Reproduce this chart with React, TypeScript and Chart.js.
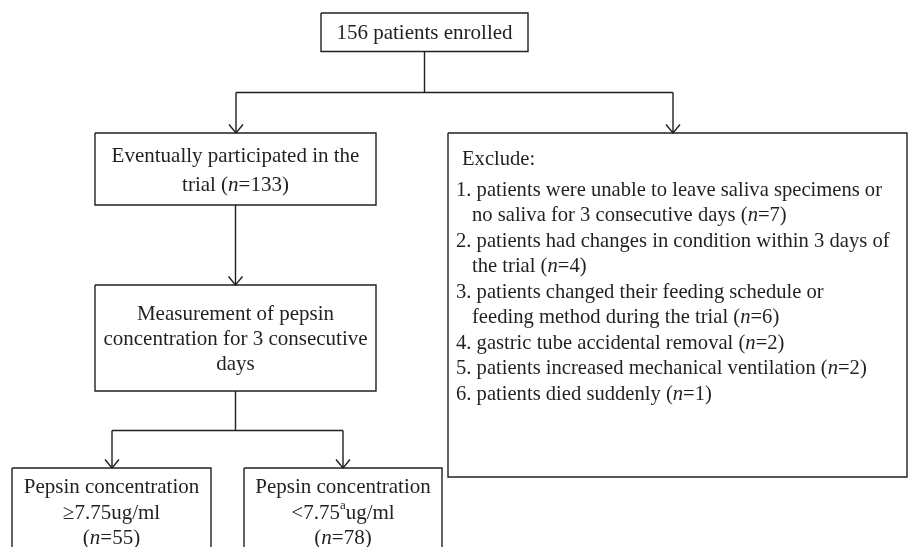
import { useEffect, useRef } from "react";
import { Chart, registerables } from "chart.js";

Chart.register(...registerables);

// ---------- content (text of each node) ----------
const enrolledText = ["156 patients enrolled"];
const participatedText = ["Eventually participated in the", "trial (*n*=133)"];
const measurementText = ["Measurement of pepsin", "concentration for 3 consecutive", "days"];
const highPepsinText = ["Pepsin concentration", "≥7.75ug/ml", "(*n*=55)"];
const lowPepsinText = ["Pepsin concentration", "<7.75^a^ug/ml", "(*n*=78)"];
const excludeTitle = "Exclude:";
const excludeItems = [
  ["1. patients were unable to leave saliva specimens or", "no saliva for 3 consecutive days (*n*=7)"],
  ["2. patients had changes in condition within 3 days of", "the trial (*n*=4)"],
  ["3. patients changed their feeding schedule or", "feeding method during the trial (*n*=6)"],
  ["4. gastric tube accidental removal (*n*=2)"],
  ["5. patients increased mechanical ventilation (*n*=2)"],
  ["6. patients died suddenly (*n*=1)"],
];

// ---------- layout (in scale units, 0..909 x 0..547) ----------
const W = 909;
const H = 547;
const INK = "#231f20";
const FONT_FAMILY = "'Liberation Serif', 'DejaVu Serif', serif";
const BOX_FONT = 21;
const LIST_FONT = 20.6;
const TEXT_DY = 1.5;
const LINE_STEP = 25.5;

type Box = { x1: number; y1: number; x2: number; y2: number; lines: string[]; firstY: number; step: number };

const boxes: Box[] = [
  { x1: 321, y1: 13, x2: 528, y2: 51.5, lines: enrolledText, firstY: 32, step: 0 },
  { x1: 95, y1: 133, x2: 376, y2: 205, lines: participatedText, firstY: 155, step: 29 },
  { x1: 95, y1: 285, x2: 376, y2: 391, lines: measurementText, firstY: 313, step: 25 },
  { x1: 12, y1: 468, x2: 211, y2: 570, lines: highPepsinText, firstY: 486, step: 25.5 },
  { x1: 244, y1: 468, x2: 442, y2: 570, lines: lowPepsinText, firstY: 486, step: 25.5 },
];

const excludeBox = { x1: 448, y1: 133, x2: 907, y2: 477 };
const excludeTitlePos = { x: 462, y: 158 };
const excludeNumX = 456;
const excludeIndentX = 472;
const excludeFirstY = 189;

// connectors: polylines; arrow flag -> arrowhead at the last point (pointing down)
const connectors: { pts: [number, number][]; arrow: boolean }[] = [
  { pts: [[424.5, 51.5], [424.5, 92.5]], arrow: false },
  { pts: [[236, 92.5], [673, 92.5]], arrow: false },
  { pts: [[236, 92.5], [236, 133]], arrow: true },
  { pts: [[673, 92.5], [673, 133]], arrow: true },
  { pts: [[235.5, 205], [235.5, 285]], arrow: true },
  { pts: [[235.5, 391], [235.5, 430.5]], arrow: false },
  { pts: [[112, 430.5], [343, 430.5]], arrow: false },
  { pts: [[112, 430.5], [112, 468]], arrow: true },
  { pts: [[343, 430.5], [343, 468]], arrow: true },
];

function rectPoints(b: { x1: number; y1: number; x2: number; y2: number }) {
  return [
    { x: b.x1, y: b.y1 },
    { x: b.x2, y: b.y1 },
    { x: b.x2, y: b.y2 },
    { x: b.x1, y: b.y2 },
    { x: b.x1, y: b.y1 },
  ];
}

function lineDataset(data: { x: number; y: number }[]) {
  return {
    data,
    showLine: true,
    borderColor: INK,
    borderWidth: 1.4,
    pointRadius: 0,
    pointHoverRadius: 0,
    tension: 0,
    fill: false,
    clip: 0,
  };
}

// ---------- rich text helpers ----------
type Seg = { text: string; style: "normal" | "italic" | "sup" };
function parse(line: string): Seg[] {
  const parts = line.split(/(\*[^*]+\*|\^[^^]+\^)/).filter((p) => p.length > 0);
  return parts.map((p) => {
    if (p.startsWith("*") && p.endsWith("*")) return { text: p.slice(1, -1), style: "italic" as const };
    if (p.startsWith("^") && p.endsWith("^")) return { text: p.slice(1, -1), style: "sup" as const };
    return { text: p, style: "normal" as const };
  });
}
function segFont(s: Seg, size: number) {
  if (s.style === "italic") return `italic ${size}px ${FONT_FAMILY}`;
  if (s.style === "sup") return `${size * 0.62}px ${FONT_FAMILY}`;
  return `${size}px ${FONT_FAMILY}`;
}
function measure(ctx: CanvasRenderingContext2D, segs: Seg[], size: number) {
  let w = 0;
  for (const s of segs) {
    ctx.font = segFont(s, size);
    w += ctx.measureText(s.text).width;
  }
  return w;
}
function drawRich(
  ctx: CanvasRenderingContext2D,
  line: string,
  x: number,
  y: number,
  align: "center" | "left",
  size: number
) {
  const segs = parse(line);
  let cx = align === "center" ? x - measure(ctx, segs, size) / 2 : x;
  ctx.textAlign = "left";
  ctx.textBaseline = "middle";
  for (const s of segs) {
    ctx.font = segFont(s, size);
    const dy = s.style === "sup" ? -size * 0.33 : 0;
    ctx.fillText(s.text, cx, y + dy);
    cx += ctx.measureText(s.text).width;
  }
}

const textPlugin = {
  id: "flowText",
  afterDatasetsDraw(chart: any) {
    const ctx: CanvasRenderingContext2D = chart.ctx;
    const xs = chart.scales.x;
    const ys = chart.scales.y;
    ctx.save();
    ctx.fillStyle = INK;
    for (const b of boxes) {
      const cx = xs.getPixelForValue((b.x1 + b.x2) / 2);
      b.lines.forEach((ln, i) => {
        drawRich(ctx, ln, cx, ys.getPixelForValue(b.firstY + i * b.step + TEXT_DY), "center", BOX_FONT);
      });
    }
    drawRich(
      ctx,
      excludeTitle,
      xs.getPixelForValue(excludeTitlePos.x),
      ys.getPixelForValue(excludeTitlePos.y + TEXT_DY),
      "left",
      LIST_FONT
    );
    let row = 0;
    for (const item of excludeItems) {
      item.forEach((ln, j) => {
        const x = j === 0 ? excludeNumX : excludeIndentX;
        drawRich(
          ctx,
          ln,
          xs.getPixelForValue(x),
          ys.getPixelForValue(excludeFirstY + row * LINE_STEP + TEXT_DY),
          "left",
          LIST_FONT
        );
        row++;
      });
    }
    ctx.restore();
  },
};

export default function App() {
  const ref = useRef<HTMLCanvasElement | null>(null);
  useEffect(() => {
    if (!ref.current) return;
    const datasets: any[] = [];
    for (const b of boxes) datasets.push(lineDataset(rectPoints(b)));
    datasets.push(lineDataset(rectPoints(excludeBox)));
    for (const c of connectors) {
      datasets.push(lineDataset(c.pts.map(([x, y]) => ({ x, y }))));
      if (c.arrow) {
        const [x, y] = c.pts[c.pts.length - 1];
        datasets.push(
          lineDataset([
            { x: x - 7, y: y - 8.5 },
            { x, y },
            { x: x + 7, y: y - 8.5 },
          ])
        );
      }
    }
    const chart = new Chart(ref.current, {
      type: "scatter",
      data: { datasets },
      options: {
        animation: false,
        responsive: false,
        maintainAspectRatio: false,
        layout: { padding: 0 },
        events: [],
        plugins: { legend: { display: false }, tooltip: { enabled: false } },
        scales: {
          x: { type: "linear", min: 0, max: W, display: false },
          y: { type: "linear", min: 0, max: H, reverse: true, display: false },
        },
      },
      plugins: [textPlugin],
    });
    return () => chart.destroy();
  }, []);
  return (
    <div style={{ position: "fixed", left: 0, top: 0, width: W, height: H, background: "#fff" }}>
      <canvas ref={ref} width={W} height={H} style={{ display: "block", width: W, height: H }} />
    </div>
  );
}
